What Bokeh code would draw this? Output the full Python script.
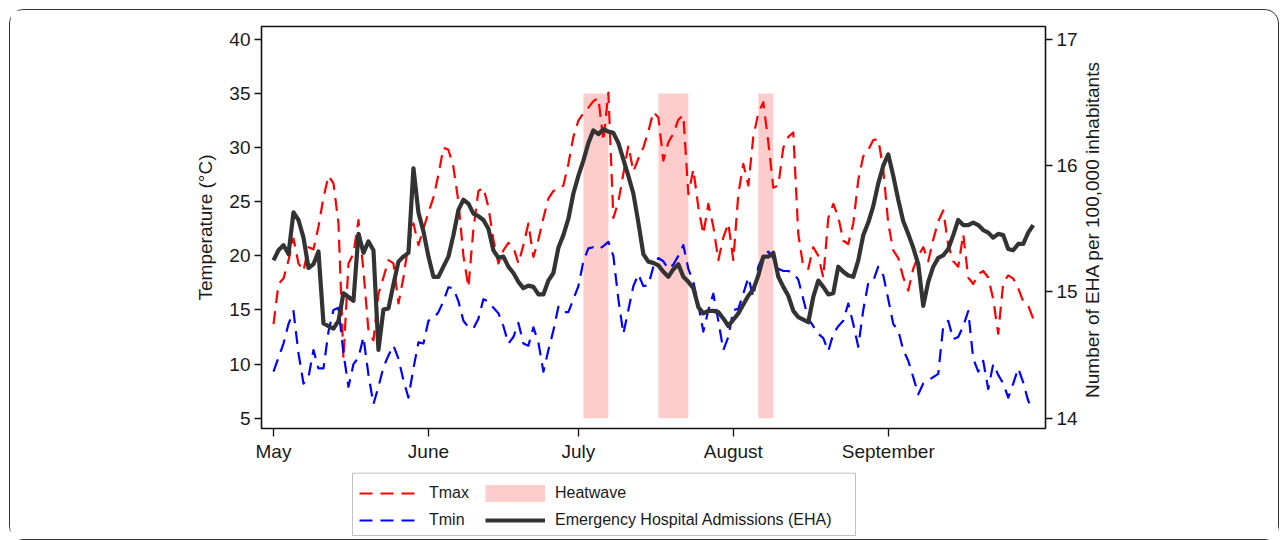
import math
from bokeh.plotting import figure
from bokeh.layouts import column, row
from bokeh.models import (LinearAxis, Range1d, FixedTicker, Legend, LegendItem,
                          ColumnDataSource, Label, BoxAnnotation)
from bokeh.embed import file_html
from bokeh.resources import INLINE

# ---- data (day 0 = 1 May, day 152 = 30 September) ----
days = list(range(153))

tmax = [13.7, 17.4, 17.9, 19.6, 21.6, 19.3, 18.6, 20.8, 20.6, 22.7,
        25.4, 27.4, 26.7, 23.0, 10.5, 19.3, 20.2, 23.3, 18.6, 13.1,
        12.2, 16.5, 18.0, 19.6, 19.3, 15.6, 18.0, 21.1, 23.0, 21.0,
        22.5, 24.0, 25.4, 27.5, 30.0, 29.8, 28.2, 25.0, 20.0, 17.1,
        22.5, 26.0, 26.3, 24.5, 21.5, 19.3, 20.5, 21.2, 20.8, 19.3,
        21.0, 23.0, 19.9, 21.5, 23.5, 25.3, 26.0, 26.2, 26.5, 28.5,
        31.0, 32.5, 33.2, 33.7, 34.3, 34.6, 30.6, 35.1, 23.5, 25.0,
        27.6, 30.2, 27.8, 29.0, 30.0, 31.5, 33.3, 32.8, 28.8, 30.5,
        31.3, 32.6, 33.0, 25.7, 28.0, 24.5, 22.0, 24.8, 22.7, 19.6,
        21.7, 23.0, 19.6, 25.7, 28.5, 26.5, 31.0, 33.2, 34.2, 30.5,
        26.3, 26.5, 30.0, 31.0, 31.4, 22.0, 19.0, 18.8, 20.8, 20.0,
        18.0, 23.5, 24.8, 23.6, 21.4, 21.1, 23.0, 27.0, 29.2, 29.8,
        30.7, 30.8, 28.0, 23.0, 20.5, 19.8, 18.0, 16.8, 18.8, 20.0,
        20.8, 19.5, 21.5, 23.2, 24.2, 21.0, 19.5, 19.0, 22.0, 18.0,
        17.4, 18.3, 18.6, 18.0, 16.0, 12.8, 17.5, 18.2, 17.9, 17.0,
        15.8, 15.4, 14.2]

tmin = [9.3, 10.6, 11.9, 13.7, 14.9, 11.0, 8.2, 8.8, 11.3, 9.6,
        9.6, 13.0, 15.0, 15.2, 11.0, 7.9, 10.0, 10.6, 12.5, 9.0,
        6.3, 7.9, 9.7, 10.8, 11.7, 10.5, 8.5, 6.9, 9.6, 12.0,
        11.9, 14.0, 14.2, 14.8, 15.8, 17.1, 17.0, 15.8, 14.0, 13.4,
        13.3, 14.2, 16.0, 15.8, 15.2, 14.7, 13.5, 11.9, 12.5, 13.8,
        11.9, 11.7, 13.4, 12.0, 9.3, 11.3, 13.1, 15.3, 14.8, 14.8,
        16.0, 17.2, 19.5, 20.7, 20.8, 20.6, 20.9, 21.3, 20.0, 16.0,
        12.8, 15.0, 17.2, 18.3, 17.2, 17.3, 19.0, 19.8, 19.5, 18.8,
        19.2, 20.0, 21.0, 18.8, 17.6, 15.5, 13.0, 15.0, 16.5, 14.0,
        11.3, 12.5, 15.0, 15.1, 16.5, 18.0, 16.2, 19.0, 20.0, 20.4,
        19.8, 18.8, 18.6, 18.6, 18.4, 17.8, 16.0, 14.2, 13.5, 12.8,
        12.4, 11.2, 12.8, 13.5, 14.0, 15.6, 13.7, 11.6, 15.0, 17.5,
        17.7, 19.0, 18.2, 16.0, 13.7, 13.1, 11.3, 10.3, 8.8, 7.2,
        8.2, 8.5, 8.8, 9.1, 13.5, 14.0, 12.3, 12.5, 13.5, 14.9,
        10.5, 9.3, 10.3, 7.7, 10.0, 9.0, 8.2, 6.9, 8.2, 9.6,
        8.3, 6.6, 5.7]

eha = [15.25, 15.33, 15.37, 15.30, 15.63, 15.57, 15.43, 15.19, 15.22, 15.32,
       14.75, 14.73, 14.71, 14.77, 14.99, 14.96, 14.93, 15.46, 15.31, 15.40,
       15.33, 14.54, 14.86, 14.87, 15.06, 15.24, 15.28, 15.31, 15.98, 15.63,
       15.48, 15.28, 15.12, 15.12, 15.20, 15.28, 15.45, 15.65, 15.73, 15.70,
       15.62, 15.60, 15.57, 15.50, 15.33, 15.27, 15.28, 15.20, 15.15, 15.08,
       15.03, 15.05, 15.04, 14.98, 14.98, 15.09, 15.15, 15.35, 15.45, 15.58,
       15.78, 15.92, 16.04, 16.18, 16.28, 16.25, 16.29, 16.27, 16.26, 16.18,
       16.05, 15.92, 15.78, 15.55, 15.30, 15.24, 15.23, 15.21, 15.16, 15.12,
       15.18, 15.22, 15.12, 15.08, 15.03, 14.88, 14.83, 14.85, 14.85, 14.84,
       14.79, 14.73, 14.78, 14.83, 14.90, 14.97, 15.02, 15.13, 15.28, 15.28,
       15.31, 15.12, 15.04, 14.97, 14.85, 14.80, 14.78, 14.76, 14.96, 15.09,
       15.04, 14.98, 14.99, 15.20, 15.16, 15.13, 15.12, 15.25, 15.45, 15.55,
       15.68, 15.86, 16.00, 16.09, 15.92, 15.73, 15.56, 15.46, 15.35, 15.22,
       14.89, 15.08, 15.20, 15.27, 15.29, 15.34, 15.45, 15.57, 15.53, 15.53,
       15.55, 15.53, 15.49, 15.47, 15.43, 15.46, 15.45, 15.34, 15.33, 15.38,
       15.38, 15.47, 15.53]

hw_start = [62, 77, 97]
hw_end = [67, 83, 100]
hw_low = [5, 5, 5]
hw_high = [35, 35, 35]

month_ticks = [0, 31, 61, 92, 123]
month_labels = ["May", "June", "July", "August", "September"]
temp_ticks = [5, 10, 15, 20, 25, 30, 35, 40]
eha_ticks = [14, 15, 16, 17]

FONT = "Liberation Sans"
TXT = "#1a1a1a"
RED, BLUE, DARK, PINK = "#ff0000", "#0000ff", "#333333", "#ffcccc"
DASH = "13 8"

src = ColumnDataSource(dict(day=days, tmax=tmax, tmin=tmin, eha=eha))
hw_src = ColumnDataSource(dict(left=hw_start, right=hw_end, bottom=hw_low, top=hw_high))

# ---------------- main plot ----------------
p = figure(width=1072, height=460, output_backend="svg", toolbar_location=None,
           x_range=Range1d(-2.4, 154.46), y_range=Range1d(4.045, 41.2),
           min_border_left=251, min_border_right=37, min_border_top=16,
           min_border_bottom=42, background_fill_color="white",
           border_fill_color="white")
p.extra_y_ranges = {"eha": Range1d(13.918, 17.103)}

p.xgrid.grid_line_color = None
p.ygrid.grid_line_color = None
p.outline_line_color = "#111111"
p.outline_line_width = 1.6

p.quad(left="left", right="right", bottom="bottom", top="top", source=hw_src,
       fill_color=PINK, line_color=None)
p.line("day", "tmax", source=src, line_color=RED, line_width=2.2,
       line_dash=DASH, line_join="round")
p.line("day", "tmin", source=src, line_color=BLUE, line_width=2.2,
       line_dash=DASH, line_join="round")
p.line("day", "eha", source=src, y_range_name="eha", line_color=DARK,
       line_width=4.2, line_join="round")

def style_axis(ax):
    ax.axis_line_color = None
    ax.major_tick_line_color = "#111111"
    ax.major_tick_line_width = 1.3
    ax.major_tick_in = 0
    ax.minor_tick_line_color = None
    ax.major_label_text_font = FONT
    ax.major_label_text_font_size = "19px"
    ax.major_label_text_color = TXT
    ax.axis_label_text_font = FONT
    ax.axis_label_text_font_size = "19px"
    ax.axis_label_text_font_style = "normal"
    ax.axis_label_text_color = TXT

xa = p.xaxis[0]
style_axis(xa)
xa.ticker = FixedTicker(ticks=month_ticks)
xa.major_label_overrides = {t: l for t, l in zip(month_ticks, month_labels)}
xa.major_tick_out = 8
xa.major_label_standoff = 4

ya = p.yaxis[0]
style_axis(ya)
ya.ticker = FixedTicker(ticks=temp_ticks)
ya.major_tick_out = 7
ya.major_label_standoff = 4
ya.axis_label = "Temperature (°C)"
ya.axis_label_standoff = 10

ra = LinearAxis(y_range_name="eha", ticker=FixedTicker(ticks=eha_ticks))
style_axis(ra)
ra.major_tick_out = 7
ra.major_label_standoff = 4
p.add_layout(ra, "right")

# ---------------- right-hand axis title (reads bottom to top) ----------------
pt = figure(width=24, height=460, output_backend="svg", toolbar_location=None,
            x_range=Range1d(0, 1), y_range=Range1d(0, 1),
            x_axis_type=None, y_axis_type=None, min_border=0,
            outline_line_color=None, background_fill_color="white",
            border_fill_color="white")
pt.grid.visible = False
pt.add_layout(Label(x=10, y=199, x_units="screen", y_units="screen",
                    text="Number of EHA per 100,000 inhabitants", angle=math.pi / 2,
                    text_align="center", text_baseline="middle",
                    text_font=FONT, text_font_size="19px", text_color=TXT))

# ---------------- legend panel (ranges in pixels of this strip) ----------------
pl = figure(width=1268, height=69, output_backend="svg", toolbar_location=None,
            x_range=Range1d(0, 1268), y_range=Range1d(0, 69),
            x_axis_type=None, y_axis_type=None, min_border=0,
            outline_line_color=None, background_fill_color="white",
            border_fill_color="white")
pl.grid.visible = False
# placeholder glyphs (outside the visible range) that only feed the legend
dummy = ColumnDataSource(dict(x=[-50, -40], y=[-50, -40]))
g_max = pl.line("x", "y", source=dummy, line_color=RED, line_width=2.2, line_dash=DASH)
g_min = pl.line("x", "y", source=dummy, line_color=BLUE, line_width=2.2, line_dash=DASH)
g_hw = pl.line("x", "y", source=dummy, line_color=PINK, line_width=17, line_cap="butt")
g_eha = pl.line("x", "y", source=dummy, line_color=DARK, line_width=4.2)

legend = Legend(items=[
    LegendItem(label="Tmax", renderers=[g_max]),
    LegendItem(label="Tmin", renderers=[g_min]),
    LegendItem(label="Heatwave", renderers=[g_hw]),
    LegendItem(label="Emergency Hospital Admissions (EHA)", renderers=[g_eha]),
], ncols=2, location=(349, 10))
legend.label_text_font = FONT
legend.label_text_font_size = "16px"
legend.label_text_color = TXT
legend.glyph_width = 60
legend.glyph_height = 18
legend.label_standoff = 10
legend.label_width = 47
legend.spacing = 9
legend.padding = 0
legend.margin = 0
legend.border_line_color = None
legend.background_fill_alpha = 0
pl.add_layout(legend, "center")
# legend frame (a little wider on the right, as in the original)
pl.add_layout(BoxAnnotation(left=342, right=845, bottom=4, top=66.3,
                            fill_color=None, fill_alpha=0,
                            line_color="#333333", line_width=1))

layout = column(row(p, pt), pl)
layout.styles = {"border": "1px solid #333333", "border-radius": "14px",
                 "margin-left": "9px", "margin-top": "9px",
                 "background-color": "white"}

open("out.html", "w").write(file_html(layout, INLINE))
